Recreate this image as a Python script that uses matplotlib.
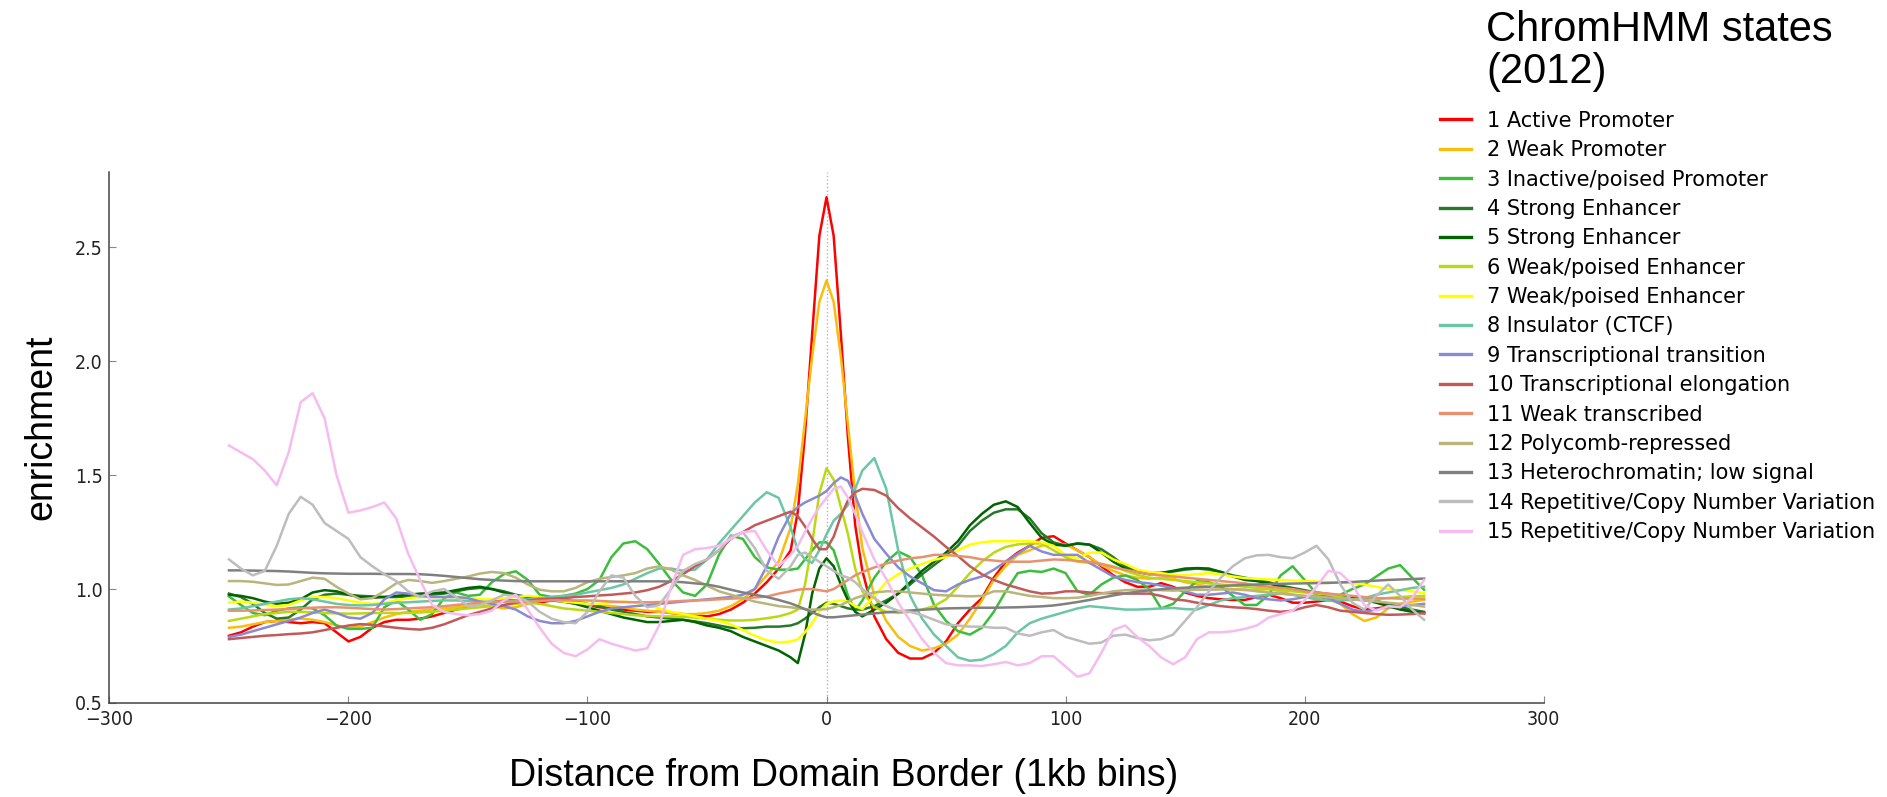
import matplotlib
matplotlib.use("Agg")
import matplotlib.pyplot as plt

# bins (1kb) sampled: every 5 bins, every 3 bins around the border
bins = list(range(-250, -14, 5)) + list(range(-12, 13, 3)) + list(range(15, 251, 5))

labels = [
    "1 Active Promoter", "2 Weak Promoter", "3 Inactive/poised Promoter",
    "4 Strong Enhancer", "5 Strong Enhancer", "6 Weak/poised Enhancer",
    "7 Weak/poised Enhancer", "8 Insulator (CTCF)", "9 Transcriptional transition",
    "10 Transcriptional elongation", "11 Weak transcribed", "12 Polycomb-repressed",
    "13 Heterochromatin; low signal", "14 Repetitive/Copy Number Variation",
    "15 Repetitive/Copy Number Variation",
]
colors = ["#ff0000", "#f8be0e", "#3dbd3d", "#27792a", "#006400", "#bcd813", "#ffff00",
          "#6cc6a6", "#8a8ad2", "#c25a5a", "#e8916f", "#b9b57b", "#808080", "#bdbdbd",
          "#f6bbef"]

s1 = [0.795, 0.81, 0.835, 0.855, 0.86, 0.855, 0.85, 0.855, 0.85, 0.81,
      0.77, 0.79, 0.83, 0.855, 0.865, 0.865, 0.87, 0.88, 0.895, 0.91,
      0.92, 0.935, 0.945, 0.95, 0.95, 0.945, 0.94, 0.95, 0.955, 0.945,
      0.93, 0.92, 0.915, 0.91, 0.905, 0.90, 0.90, 0.895, 0.89, 0.885,
      0.88, 0.89, 0.91, 0.94, 0.98, 1.03, 1.09, 1.17,
      1.34, 1.68, 2.12, 2.55, 2.72, 2.55, 2.12, 1.66, 1.28,
      1.08, 0.88, 0.78, 0.72, 0.695, 0.695, 0.72, 0.77,
      0.85, 0.91, 0.96, 1.05, 1.12, 1.16, 1.19, 1.225, 1.232, 1.20,
      1.17, 1.14, 1.10, 1.06, 1.03, 1.01, 1.01, 1.026, 1.01, 0.985,
      0.97, 0.96, 0.955, 0.952, 0.952, 0.965, 0.975, 0.96, 0.94, 0.94,
      0.945, 0.952, 0.945, 0.925, 0.91, 0.915, 0.922, 0.92, 0.905, 0.894]
s2 = [0.83, 0.835, 0.845, 0.855, 0.86, 0.865, 0.87, 0.865, 0.855, 0.84,
      0.83, 0.835, 0.855, 0.875, 0.89, 0.90, 0.905, 0.91, 0.915, 0.92,
      0.925, 0.93, 0.925, 0.915, 0.92, 0.935, 0.95, 0.955, 0.945, 0.935,
      0.93, 0.93, 0.925, 0.92, 0.91, 0.905, 0.90, 0.895, 0.89, 0.89,
      0.895, 0.905, 0.925, 0.955, 1.0, 1.06, 1.12, 1.27,
      1.46, 1.74, 2.02, 2.26, 2.355, 2.26, 2.02, 1.72, 1.42,
      1.18, 0.97, 0.86, 0.79, 0.75, 0.73, 0.74, 0.76,
      0.80, 0.87, 0.95, 1.04, 1.10, 1.15, 1.17, 1.19, 1.20, 1.195,
      1.17, 1.14, 1.105, 1.08, 1.06, 1.05, 1.045, 1.05, 1.045, 1.03,
      1.02, 1.01, 1.005, 1.0, 0.995, 0.995, 1.0, 0.99, 0.975, 0.97,
      0.965, 0.955, 0.935, 0.89, 0.86, 0.875, 0.915, 0.935, 0.945, 0.952]
s3 = [0.968, 0.93, 0.895, 0.885, 0.905, 0.915, 0.92, 0.915, 0.885, 0.84,
      0.825, 0.825, 0.83, 0.92, 0.95, 0.91, 0.865, 0.89, 0.96, 0.985,
      0.97, 0.975, 1.03, 1.065, 1.078, 1.04, 0.975, 0.965, 0.97, 0.98,
      1.0, 1.04, 1.14, 1.20, 1.21, 1.175, 1.11, 1.04, 0.985, 0.97,
      1.02, 1.15, 1.235, 1.22, 1.14, 1.095, 1.085, 1.085,
      1.09, 1.13, 1.17, 1.205, 1.205, 1.17, 1.07, 0.97, 0.905,
      0.95, 1.05, 1.12, 1.165, 1.14, 1.06, 0.93, 0.86,
      0.815, 0.80, 0.83, 0.90, 0.99, 1.07, 1.08, 1.075, 1.09, 1.07,
      0.99, 0.975, 1.02, 1.05, 1.06, 1.04, 1.0, 0.915, 0.935, 0.99,
      1.035, 1.03, 1.01, 0.97, 0.93, 0.93, 0.975, 1.06, 1.10, 1.04,
      0.98, 0.95, 0.975, 1.0, 1.02, 1.055, 1.09, 1.105, 1.05, 0.997]
s4 = [0.98, 0.965, 0.935, 0.895, 0.87, 0.875, 0.91, 0.955, 0.975, 0.98,
      0.975, 0.97, 0.968, 0.965, 0.965, 0.968, 0.972, 0.975, 0.98, 0.99,
      1.0, 1.005, 1.0, 0.99, 0.975, 0.965, 0.96, 0.955, 0.95, 0.945,
      0.935, 0.925, 0.91, 0.90, 0.89, 0.88, 0.875, 0.87, 0.865, 0.858,
      0.85, 0.84, 0.83, 0.828, 0.83, 0.835, 0.835, 0.84,
      0.85, 0.87, 0.895, 0.92, 0.94, 0.935, 0.925, 0.915, 0.91,
      0.91, 0.925, 0.95, 0.98, 1.02, 1.065, 1.105, 1.145,
      1.19, 1.255, 1.30, 1.335, 1.35, 1.35, 1.31, 1.245, 1.205, 1.19,
      1.20, 1.195, 1.175, 1.14, 1.10, 1.08, 1.07, 1.072, 1.077, 1.085,
      1.09, 1.085, 1.075, 1.06, 1.05, 1.04, 1.03, 1.015, 1.005, 0.995,
      0.985, 0.978, 0.972, 0.965, 0.958, 0.948, 0.935, 0.92, 0.91, 0.90]
s5 = [0.975, 0.97, 0.96, 0.945, 0.935, 0.94, 0.955, 0.985, 0.995, 0.99,
      0.975, 0.965, 0.962, 0.965, 0.97, 0.975, 0.98, 0.982, 0.985, 0.995,
      1.005, 1.01, 1.0, 0.985, 0.97, 0.96, 0.955, 0.95, 0.945, 0.935,
      0.92, 0.905, 0.89, 0.875, 0.865, 0.855, 0.855, 0.86, 0.865, 0.855,
      0.84, 0.83, 0.815, 0.79, 0.77, 0.75, 0.73, 0.70,
      0.675, 0.80, 0.98, 1.09, 1.135, 1.10, 1.02, 0.95, 0.90,
      0.88, 0.91, 0.94, 0.98, 1.03, 1.08, 1.12, 1.16,
      1.21, 1.28, 1.33, 1.37, 1.385, 1.36, 1.29, 1.225, 1.195, 1.19,
      1.20, 1.195, 1.16, 1.12, 1.09, 1.075, 1.065, 1.07, 1.08, 1.09,
      1.092, 1.09, 1.075, 1.055, 1.04, 1.035, 1.025, 1.01, 1.0, 0.99,
      0.98, 0.97, 0.965, 0.96, 0.952, 0.94, 0.925, 0.91, 0.90, 0.895]
s6 = [0.86, 0.87, 0.88, 0.89, 0.895, 0.90, 0.90, 0.898, 0.895, 0.893,
      0.892, 0.893, 0.895, 0.895, 0.895, 0.895, 0.897, 0.90, 0.905, 0.91,
      0.915, 0.92, 0.925, 0.93, 0.935, 0.94, 0.935, 0.925, 0.915, 0.91,
      0.905, 0.90, 0.895, 0.89, 0.885, 0.882, 0.88, 0.88, 0.878, 0.875,
      0.87, 0.865, 0.862, 0.862, 0.865, 0.872, 0.88, 0.895,
      0.91, 1.02, 1.20, 1.42, 1.53, 1.48, 1.36, 1.24, 1.09,
      0.99, 0.92, 0.90, 0.895, 0.90, 0.91, 0.925, 0.955,
      1.01, 1.07, 1.12, 1.16, 1.185, 1.196, 1.20, 1.20, 1.17, 1.14,
      1.12, 1.115, 1.11, 1.10, 1.08, 1.063, 1.05, 1.045, 1.04, 1.035,
      1.03, 1.025, 1.02, 1.015, 1.01, 1.005, 1.0, 0.995, 0.99, 0.985,
      0.98, 0.975, 0.965, 0.955, 0.95, 0.955, 0.96, 0.965, 0.968, 0.97]
s7 = [0.94, 0.945, 0.94, 0.93, 0.925, 0.93, 0.95, 0.965, 0.965, 0.96,
      0.95, 0.94, 0.935, 0.94, 0.95, 0.96, 0.965, 0.965, 0.965, 0.965,
      0.96, 0.955, 0.955, 0.96, 0.965, 0.97, 0.965, 0.955, 0.945, 0.94,
      0.935, 0.935, 0.94, 0.945, 0.94, 0.93, 0.915, 0.90, 0.89, 0.88,
      0.87, 0.86, 0.845, 0.82, 0.795, 0.775, 0.765, 0.77,
      0.78, 0.81, 0.85, 0.90, 0.935, 0.945, 0.95, 0.945, 0.925,
      0.912, 0.97, 1.03, 1.065, 1.09, 1.11, 1.128, 1.14,
      1.17, 1.195, 1.205, 1.21, 1.21, 1.21, 1.21, 1.205, 1.19, 1.15,
      1.135, 1.16, 1.16, 1.13, 1.11, 1.085, 1.075, 1.07, 1.062, 1.06,
      1.065, 1.07, 1.065, 1.055, 1.048, 1.045, 1.042, 1.04, 1.037, 1.035,
      1.033, 1.03, 1.028, 1.026, 1.02, 1.01, 1.0, 0.995, 0.99, 0.982]
s8 = [0.91, 0.915, 0.925, 0.935, 0.945, 0.955, 0.96, 0.955, 0.945, 0.935,
      0.93, 0.928, 0.93, 0.935, 0.94, 0.942, 0.945, 0.948, 0.95, 0.95,
      0.948, 0.945, 0.943, 0.945, 0.95, 0.955, 0.96, 0.965, 0.97, 0.975,
      0.985, 0.995, 1.005, 1.02, 1.045, 1.07, 1.09, 1.09, 1.08, 1.085,
      1.13, 1.20, 1.26, 1.32, 1.38, 1.425, 1.40, 1.27,
      1.17, 1.13, 1.115, 1.17, 1.24, 1.30, 1.33, 1.37, 1.44,
      1.52, 1.575, 1.44, 1.17, 0.97, 0.87, 0.80, 0.75,
      0.70, 0.685, 0.69, 0.715, 0.75, 0.81, 0.85, 0.87, 0.885, 0.90,
      0.915, 0.925, 0.92, 0.915, 0.91, 0.91, 0.912, 0.915, 0.917, 0.912,
      0.91, 0.93, 0.95, 0.96, 0.965, 0.97, 0.975, 0.98, 0.975, 0.965,
      0.955, 0.95, 0.95, 0.952, 0.96, 0.975, 0.985, 0.995, 1.005, 1.01]
s9 = [0.79, 0.80, 0.815, 0.83, 0.845, 0.86, 0.875, 0.895, 0.91, 0.895,
      0.875, 0.87, 0.895, 0.955, 0.985, 0.98, 0.97, 0.965, 0.965, 0.965,
      0.96, 0.945, 0.935, 0.925, 0.91, 0.88, 0.86, 0.85, 0.85, 0.86,
      0.88, 0.90, 0.915, 0.92, 0.925, 0.93, 0.935, 0.94, 0.945, 0.95,
      0.955, 0.96, 0.965, 0.975, 1.0, 1.10, 1.23, 1.33,
      1.36, 1.38, 1.395, 1.41, 1.43, 1.465, 1.49, 1.475, 1.41,
      1.33, 1.22, 1.155, 1.095, 1.055, 1.025, 0.995, 0.99,
      1.02, 1.04, 1.055, 1.085, 1.12, 1.155, 1.19, 1.165, 1.15, 1.15,
      1.15, 1.115, 1.085, 1.055, 1.04, 1.03, 1.025, 1.015, 1.005, 0.99,
      0.975, 0.975, 0.98, 0.985, 0.975, 0.96, 0.955, 0.95, 0.955, 0.965,
      0.97, 0.96, 0.935, 0.91, 0.90, 0.91, 0.92, 0.925, 0.93, 0.935]
s10 = [0.78, 0.785, 0.79, 0.795, 0.798, 0.802, 0.805, 0.81, 0.82, 0.83,
       0.84, 0.846, 0.843, 0.836, 0.83, 0.825, 0.822, 0.83, 0.845, 0.865,
       0.885, 0.90, 0.915, 0.93, 0.94, 0.95, 0.955, 0.958, 0.96, 0.965,
       0.968, 0.972, 0.975, 0.98, 0.985, 0.995, 1.01, 1.035, 1.065, 1.10,
       1.13, 1.17, 1.22, 1.25, 1.28, 1.30, 1.32, 1.34,
       1.32, 1.275, 1.22, 1.175, 1.175, 1.23, 1.32, 1.39, 1.425,
       1.44, 1.435, 1.41, 1.355, 1.31, 1.27, 1.23, 1.185,
       1.145, 1.10, 1.065, 1.04, 1.02, 1.005, 0.99, 0.98, 0.982, 0.99,
       0.99, 0.985, 0.982, 0.982, 0.98, 0.98, 0.98, 0.97, 0.955, 0.95,
       0.94, 0.932, 0.925, 0.92, 0.917, 0.912, 0.905, 0.90, 0.905, 0.92,
       0.93, 0.92, 0.905, 0.90, 0.895, 0.89, 0.887, 0.888, 0.89, 0.894]
s11 = [0.905, 0.905, 0.906, 0.908, 0.91, 0.912, 0.915, 0.918, 0.92, 0.92,
       0.918, 0.915, 0.912, 0.91, 0.912, 0.915, 0.918, 0.92, 0.925, 0.93,
       0.935, 0.94, 0.945, 0.945, 0.945, 0.945, 0.948, 0.95, 0.95, 0.95,
       0.95, 0.948, 0.945, 0.943, 0.942, 0.942, 0.943, 0.945, 0.948, 0.95,
       0.952, 0.955, 0.958, 0.96, 0.963, 0.967, 0.98, 0.99,
       0.997, 1.0, 1.0, 0.995, 0.99, 1.0, 1.02, 1.04, 1.06,
       1.075, 1.095, 1.112, 1.125, 1.135, 1.14, 1.15, 1.15,
       1.145, 1.14, 1.13, 1.125, 1.12, 1.12, 1.12, 1.125, 1.13, 1.128,
       1.123, 1.12, 1.11, 1.095, 1.085, 1.075, 1.065, 1.06, 1.055, 1.05,
       1.045, 1.04, 1.035, 1.03, 1.025, 1.015, 1.01, 1.005, 1.0, 0.99,
       0.985, 0.98, 0.975, 0.97, 0.965, 0.96, 0.96, 0.958, 0.958, 0.958]
s12 = [1.035, 1.035, 1.032, 1.025, 1.018, 1.02, 1.035, 1.05, 1.045, 1.01,
       0.98, 0.955, 0.96, 0.99, 1.025, 1.04, 1.035, 1.027, 1.035, 1.045,
       1.055, 1.068, 1.075, 1.07, 1.05, 1.02, 0.997, 0.99, 0.99, 1.005,
       1.03, 1.045, 1.053, 1.06, 1.07, 1.09, 1.10, 1.085, 1.06, 1.04,
       1.015, 0.99, 0.975, 0.96, 0.945, 0.935, 0.925, 0.92,
       0.915, 0.912, 0.91, 0.91, 0.912, 0.92, 0.93, 0.945, 0.96,
       0.97, 0.985, 0.99, 0.99, 0.985, 0.98, 0.975, 0.972,
       0.97, 0.968, 0.97, 0.99, 0.99, 0.98, 0.97, 0.965, 0.96, 0.96,
       0.962, 0.97, 0.98, 0.99, 0.995, 0.997, 0.997, 0.995, 0.993, 0.995,
       0.997, 0.997, 0.998, 0.998, 0.998, 0.99, 0.985, 0.98, 0.975, 0.97,
       0.967, 0.963, 0.96, 0.955, 0.95, 0.945, 0.94, 0.935, 0.93, 0.923]
s13 = [1.082, 1.082, 1.081, 1.08, 1.079, 1.077, 1.074, 1.071, 1.069, 1.068,
       1.067, 1.067, 1.067, 1.066, 1.066, 1.066, 1.065, 1.062, 1.058, 1.053,
       1.048, 1.043, 1.04, 1.037, 1.035, 1.034, 1.034, 1.034, 1.034, 1.034,
       1.034, 1.034, 1.034, 1.034, 1.034, 1.034, 1.034, 1.033, 1.03, 1.025,
       1.02, 1.01, 0.997, 0.985, 0.975, 0.965, 0.952, 0.937,
       0.925, 0.912, 0.898, 0.885, 0.876, 0.876, 0.879, 0.882, 0.885,
       0.888, 0.893, 0.898, 0.902, 0.906, 0.909, 0.912, 0.915,
       0.916, 0.917, 0.918, 0.918, 0.919, 0.92, 0.922, 0.924, 0.928, 0.935,
       0.943, 0.952, 0.962, 0.972, 0.981, 0.988, 0.994, 0.999, 1.003, 1.006,
       1.008, 1.01, 1.013, 1.016, 1.018, 1.02, 1.022, 1.023, 1.024, 1.025,
       1.026, 1.027, 1.029, 1.031, 1.034, 1.037, 1.04, 1.042, 1.044, 1.046]
s14 = [1.13, 1.09, 1.06, 1.08, 1.19, 1.33, 1.405, 1.37, 1.29, 1.255,
       1.22, 1.14, 1.10, 1.065, 1.035, 0.99, 0.965, 0.99, 1.0, 0.965,
       0.925, 0.93, 0.95, 0.975, 0.97, 0.945, 0.90, 0.87, 0.855, 0.85,
       0.90, 0.99, 1.06, 1.05, 0.97, 0.92, 0.93, 1.0, 1.08, 1.11,
       1.13, 1.17, 1.23, 1.25, 1.18, 1.08, 1.045, 1.10,
       1.15, 1.16, 1.14, 1.12, 1.10, 1.08, 1.06, 1.05, 1.03,
       1.0, 0.96, 0.925, 0.905, 0.90, 0.885, 0.865, 0.845,
       0.84, 0.835, 0.835, 0.83, 0.83, 0.805, 0.795, 0.81, 0.82, 0.79,
       0.775, 0.76, 0.765, 0.795, 0.80, 0.785, 0.775, 0.78, 0.80, 0.86,
       0.92, 0.99, 1.05, 1.10, 1.135, 1.148, 1.15, 1.14, 1.135, 1.16,
       1.19, 1.13, 1.02, 0.94, 0.91, 0.97, 1.02, 0.97, 0.91, 0.865]
s15 = [1.63, 1.60, 1.57, 1.52, 1.455, 1.60, 1.82, 1.86, 1.75, 1.50,
       1.335, 1.345, 1.36, 1.38, 1.31, 1.155, 1.04, 0.93, 0.90, 0.89,
       0.885, 0.89, 0.905, 0.95, 0.975, 0.91, 0.83, 0.76, 0.72, 0.705,
       0.735, 0.78, 0.76, 0.745, 0.73, 0.74, 0.84, 1.01, 1.15, 1.175,
       1.18, 1.19, 1.22, 1.25, 1.255, 1.17, 1.10, 1.15,
       1.19, 1.25, 1.31, 1.36, 1.40, 1.44, 1.45, 1.40, 1.33,
       1.25, 1.13, 1.045, 0.94, 0.86, 0.78, 0.72, 0.675,
       0.665, 0.665, 0.662, 0.67, 0.68, 0.665, 0.675, 0.705, 0.705, 0.66,
       0.615, 0.63, 0.72, 0.82, 0.84, 0.79, 0.75, 0.70, 0.67, 0.70,
       0.78, 0.81, 0.81, 0.815, 0.825, 0.84, 0.875, 0.89, 0.905, 0.95,
       1.01, 1.08, 1.07, 1.02, 0.93, 0.905, 0.925, 0.92, 0.96, 1.04]

series = [s1, s2, s3, s4, s5, s6, s7, s8, s9, s10, s11, s12, s13, s14, s15]

fig = plt.figure(figsize=(18.87, 7.97), dpi=100)
ax = fig.add_axes([0.058, 0.118, 0.760, 0.666])

ax.axvline(0, color="#b4b4b4", ls=":", lw=1.0, zorder=0)
handles = []
for ys, c, lab in zip(series, colors, labels):
    ln, = ax.plot(bins, ys, color=c, lw=1.8, label=lab)
    handles.append(ln)

ax.set_xlim(-300, 300)
ax.set_ylim(0.5, 2.83)
ax.set_xticks([-300, -200, -100, 0, 100, 200, 300])
ax.set_yticks([0.5, 1.0, 1.5, 2.0, 2.5])
for side in ("top", "right"):
    ax.spines[side].set_visible(False)
for side in ("left", "bottom"):
    ax.spines[side].set_color("#444444")
    ax.spines[side].set_linewidth(1.1)
ax.xaxis.set_ticks_position("bottom")
ax.yaxis.set_ticks_position("left")
ax.tick_params(direction="in", length=5, width=0.8, color="#888888",
               labelsize=14, pad=5, labelcolor="#222222")
for t in ax.get_xticklabels() + ax.get_yticklabels():
    t.set_fontfamily("DejaVu Sans")
    t.set_fontstretch("condensed")

fig.text(0.022, 0.464, "enrichment", rotation=90, fontsize=27,
         family="Liberation Sans", ha="center", va="center")
fig.text(0.447, 0.026, "Distance from Domain Border (1kb bins)", fontsize=27,
         family="Liberation Sans", ha="center", va="center")
fig.text(0.7875, 0.987, "ChromHMM states\n(2012)", fontsize=30,
         family="Liberation Sans", ha="left", va="top", linespacing=1.05)

leg = ax.legend(handles=handles, loc="upper left", bbox_to_anchor=(0.763, 0.861),
                bbox_transform=fig.transFigure, frameon=False,
                prop={"family": "DejaVu Sans", "size": 15},
                handlelength=1.5, handletextpad=0.75, labelspacing=0.45,
                borderpad=0, borderaxespad=0)
for ln in leg.get_lines():
    ln.set_linewidth(2.4)

fig.savefig("out.png", dpi=100)
